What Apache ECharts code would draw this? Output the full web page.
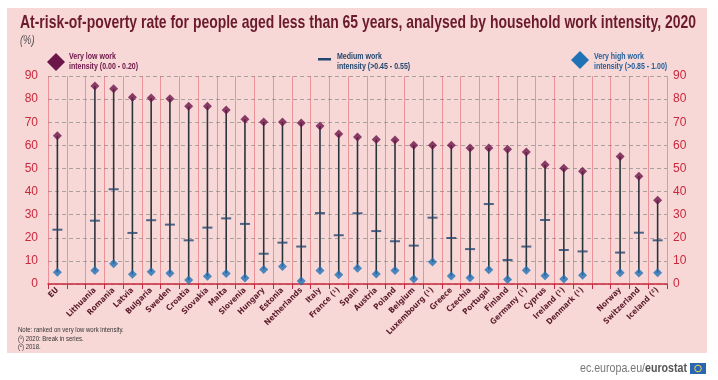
<!DOCTYPE html>
<html><head><meta charset="utf-8">
<script src="https://cdn.jsdelivr.net/npm/echarts@6/dist/echarts.min.js"></script>
<style>html,body{margin:0;padding:0;background:#fff}#c{width:718px;height:380px}</style>
</head><body><div id="c"></div>
<script>
const categories = ['EU','','Lithuania','Romania','Latvia','Bulgaria','Sweden','Croatia','Slovakia','Malta','Slovenia','Hungary','Estonia','Netherlands','Italy','France (¹)','Spain','Austria','Poland','Belgium','Luxembourg (¹)','Greece','Czechia','Portugal','Finland','Germany (¹)','Cyprus','Ireland (¹)','Denmark (¹)','','Norway','Switzerland','Iceland (²)'];
const veryLow = [64.2,null,85.7,84.5,80.8,80.5,80.2,76.9,76.9,75.3,71.3,70.1,70.1,69.7,68.4,64.9,63.6,62.5,62.3,60.0,60.0,60.0,58.8,58.8,58.3,57.1,51.6,50.1,48.8,null,55.2,46.6,36.2];
const medium = [23.5,null,27.4,41.0,22.1,27.6,25.7,18.9,24.4,28.4,26.0,13.1,17.9,16.2,30.7,21.1,30.6,22.9,18.5,16.6,28.7,19.9,15.1,34.6,10.4,16.2,27.7,14.7,14.1,null,13.6,22.2,18.9];
const veryHigh = [5.1,null,5.8,8.8,4.2,5.3,4.6,1.7,3.3,4.5,2.6,6.3,7.6,1.3,5.8,4.0,6.8,4.3,5.8,2.2,9.5,3.5,2.7,6.2,2.0,5.9,3.6,2.2,3.8,null,4.9,4.8,4.9];

const SANS = "'Liberation Sans',Arial,sans-serif";
const RED = '#c8283c', MAROON = '#6b1548', BLUE = '#2171b5', NAVY = '#23466e', LINE = '#2b333b';

const ctx = document.createElement('canvas').getContext('2d');
function measure(text, font){ ctx.font = font; return ctx.measureText(text).width; }
function ctext(x, y, text, font, fill, sx){
  return {type:'text', x:x, y:y, scaleX:sx, originX:0, originY:0,
    style:{text:text, font:font, fill:fill, x:0, y:0}};
}
const titleText = 'At-risk-of-poverty rate for people aged less than 65 years, analysed by household work intensity, 2020';
const titleFont = 'bold 19px ' + SANS;
const titleScale = 676 / measure(titleText, titleFont);
const COND = 0.78;
const urlA = 'ec.europa.eu/', urlB = 'eurostat';
const urlW = measure(urlA, '13px '+SANS) + measure(urlB, 'bold 13px '+SANS);
const urlScale = 107 / urlW;

const rangeData = categories.map((c,i)=> veryLow[i]==null ? null : [i, veryHigh[i], veryLow[i]]).filter(d=>d);

const chart = echarts.init(document.getElementById('c'), null, {renderer:'canvas'});
chart.setOption({
  animation:false,
  backgroundColor:'#ffffff',
  graphic:[
    {type:'rect', shape:{x:7,y:8,width:700,height:345}, style:{fill:'#f8d8d7'}, z:-10},
    ctext(20, 13, titleText, titleFont, '#6b1a2c', titleScale),
    ctext(20, 35, '(%)', 'italic 12px '+SANS, '#555', COND),
    {type:'polygon', shape:{points:[[56,53],[65,62],[56,71],[47,62]]}, style:{fill:MAROON}},
    {type:'rect', shape:{x:318,y:58,width:13,height:2.5}, style:{fill:NAVY}},
    {type:'polygon', shape:{points:[[580,51],[589,60],[580,69],[571,60]]}, style:{fill:BLUE}},
    {type:'text', x:69, y:51, scaleX:COND, style:{text:'Very low work\nintensity (0.00 - 0.20)', font:'bold 9px '+SANS, fill:MAROON, lineHeight:10.5}},
    {type:'text', x:337, y:51, scaleX:COND, style:{text:'Medium work\nintensity (>0.45 - 0.55)', font:'bold 9px '+SANS, fill:NAVY, lineHeight:10.5}},
    {type:'text', x:594, y:51, scaleX:COND, style:{text:'Very high work\nintensity (>0.85 - 1.00)', font:'bold 9px '+SANS, fill:'#1f5f9c', lineHeight:10.5}},
    {type:'text', x:18, y:326, scaleX:0.75, style:{text:'Note: ranked on very low work intensity.\n(¹) 2020: Break in series.\n(²) 2018.', font:'8px '+SANS, fill:'#333', lineHeight:8.3}},
    {type:'text', x:580, y:362, scaleX:urlScale, originX:0, style:{x:0, y:0, rich:{a:{font:'13px '+SANS, fill:'#777'},b:{font:'bold 13px '+SANS, fill:'#555'}}, text:'{a|'+urlA+'}{b|'+urlB+'}'}},
    {type:'rect', shape:{x:690,y:363,width:16,height:11}, style:{fill:'#2a67b1'}},
    {type:'circle', shape:{cx:698,cy:368.5,r:3.3}, style:{fill:'none', stroke:'#f3d55b', lineWidth:1}}
  ],
  grid:{left:48, right:51, top:76, bottom:96},
  xAxis:{
    type:'category', data:categories, boundaryGap:true,
    axisLine:{lineStyle:{color:RED, width:1.5}},
    axisTick:{show:true, length:5, lineStyle:{color:RED, width:1}},
    splitLine:{show:true, lineStyle:{color:'rgba(220,90,100,0.55)', width:1}},
    axisLabel:{rotate:45, interval:0, fontFamily:"'DejaVu Sans Condensed','Liberation Sans Narrow','Liberation Sans',sans-serif", fontSize:8, fontWeight:'bold', color:'#5a1a2a', margin:5}
  },
  yAxis:[
    {type:'value', min:0, max:90, interval:10, position:'left',
     axisLine:{show:false}, axisTick:{show:false},
     splitLine:{lineStyle:{color:'#a9a0a0', type:[4,3], width:1}},
     axisLabel:{color:RED, fontFamily:SANS, fontSize:12, margin:10}},
    {type:'value', min:0, max:90, interval:10, position:'right',
     axisLine:{show:false}, axisTick:{show:false}, splitLine:{show:false},
     axisLabel:{color:RED, fontFamily:SANS, fontSize:12, margin:6, align:'left'}}
  ],
  series:[
    {type:'custom', name:'range', z:2,
     renderItem:function(params, api){
       const a = api.coord([api.value(0), api.value(1)]);
       const b = api.coord([api.value(0), api.value(2)]);
       return {type:'line', shape:{x1:a[0],y1:a[1],x2:b[0],y2:b[1]}, style:{stroke:LINE, lineWidth:1.6}};
     },
     encode:{x:0, y:[1,2]},
     data:rangeData},
    {type:'scatter', name:'vl', data:veryLow, symbol:'diamond', symbolSize:9, itemStyle:{color:MAROON}, z:5},
    {type:'scatter', name:'med', data:medium, symbol:'rect', symbolSize:[10,2], itemStyle:{color:NAVY}, z:5},
    {type:'scatter', name:'vh', data:veryHigh, symbol:'diamond', symbolSize:9, itemStyle:{color:BLUE}, z:5}
  ]
});
</script>
</body></html>
